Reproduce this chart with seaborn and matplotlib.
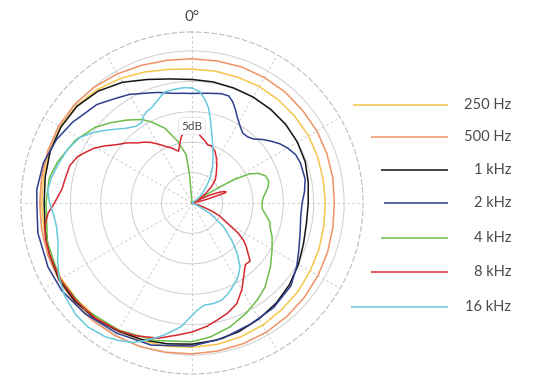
import numpy as np
import pandas as pd
import matplotlib
matplotlib.use("Agg")
import matplotlib.pyplot as plt
import seaborn as sns

sns.set_theme(style="white")
plt.rcParams["font.family"] = ["Lato", "DejaVu Sans"]

# ---------------- data (angle in degrees clockwise from 0°, level in dB above plot centre) -------------
series_labels = ["250 Hz", "500 Hz", "1 kHz", "2 kHz", "4 kHz", "8 kHz", "16 kHz"]
series_colors = ["#F5C64A", "#EF9266", "#141414", "#2E3E8E", "#6BBE4A", "#D7282F", "#68C8DC"]

angles_10 = [0, 10, 20, 30, 40, 50, 60, 70, 80, 90, 100, 110,
             120, 130, 140, 150, 160, 170, 180, 190, 200, 210, 220, 230,
             240, 250, 260, 270, 280, 290, 300, 310, 320, 330, 340, 350]

level_250 = [22.0, 22.0, 22.0, 22.1, 22.1, 22.1, 22.1, 22.0, 21.9, 21.9, 22.0, 22.2,
             22.4, 22.7, 22.9, 23.2, 23.4, 23.6, 23.7, 23.9, 24.1, 24.3, 24.5, 24.7,
             24.8, 24.8, 24.7, 24.7, 24.8, 24.9, 25.0, 24.8, 24.3, 23.6, 22.9, 22.3]

level_500 = [23.7, 23.7, 23.8, 23.8, 23.8, 23.7, 23.7, 23.6, 23.5, 23.4, 23.5, 23.7,
             23.9, 24.1, 24.3, 24.5, 24.6, 24.7, 24.8, 24.9, 25.1, 25.2, 25.3, 25.3,
             25.3, 25.2, 25.1, 25.0, 25.1, 25.2, 25.3, 25.2, 24.9, 24.5, 24.1, 23.8]

level_1k = [20.3, 20.2, 20.1, 20.1, 20.1, 20.1, 20.0, 19.8, 19.4, 19.1, 19.1, 19.5,
            20.2, 20.9, 21.5, 22.0, 22.5, 22.9, 23.2, 23.5, 23.9, 24.3, 24.8, 25.1,
            25.2, 24.9, 24.5, 24.3, 24.5, 24.8, 24.9, 24.7, 24.0, 22.9, 21.6, 20.7]

angles_2k = [0, 5, 10, 15, 19, 22, 25, 28, 32, 36, 40, 44, 48, 52, 56, 60, 65, 70, 78, 84,
             90, 97, 105, 113, 121, 130, 142, 154, 167, 180, 196, 210, 224, 236, 246, 259,
             270, 275, 285, 295, 304, 316, 323, 330, 337, 343, 350, 355]
level_2k = [18.0, 18.1, 18.3, 18.6, 18.6, 17.9, 16.9, 15.9, 14.9, 14.2, 14.2, 14.6, 15.6,
            16.5, 17.4, 18.1, 18.8, 19.0, 19.0, 18.6, 18.1, 18.0, 18.4, 19.1, 20.1, 21.2,
            21.8, 22.1, 22.8, 23.5, 24.3, 24.7, 25.3, 25.8, 25.9, 25.8, 25.5, 25.6, 25.3,
            24.6, 23.7, 22.5, 21.4, 20.6, 19.6, 19.0, 18.3, 18.1]

angles_4k = [0, 58, 60, 61, 63, 66, 70, 74, 78, 82, 86, 90, 95, 98, 104, 107, 113, 120,
             129, 139, 146, 154, 163, 172, 180, 195, 210, 225, 240, 255, 270, 280, 287,
             298, 308, 315, 322, 329, 333, 340, 347, 353, 355, 357]
level_4k = [0.0, 0.0, 5.0, 8.0, 10.5, 12.0, 12.9, 13.1, 12.8, 12.2, 11.7, 11.5, 11.6, 12.1,
            13.2, 13.4, 14.3, 15.2, 16.6, 18.3, 19.2, 20.2, 21.3, 22.2, 22.8, 23.4, 24.1,
            24.8, 25.1, 24.6, 24.0, 23.8, 23.1, 21.8, 20.2, 18.7, 17.3, 16.0, 15.0, 13.1,
            10.4, 8.0, 4.7, 0.0]

angles_8k = [0, 5, 9, 12, 15, 19, 24, 28, 33, 40, 45, 50, 55, 60, 63, 64, 66, 68, 70, 72,
             73, 74, 76, 78, 80, 104, 108, 112, 115, 118, 121, 123, 126, 129, 132, 135, 139,
             142, 145, 150, 156, 162, 168, 173, 180, 186, 194, 203, 210, 220, 230, 240, 250,
             256, 261, 266, 270, 276, 281, 287, 292, 295, 299, 303, 308, 313, 318, 322, 326,
             331, 336, 340, 343, 345.5, 348, 351, 353, 357]
level_8k = [11.7, 11.5, 10.8, 10.4, 9.9, 9.9, 9.3, 8.5, 7.5, 6.2, 5.4, 4.2, 2.8, 1.5, 0.5,
            1.0, 3.0, 4.5, 5.5, 5.9, 5.6, 4.0, 2.5, 1.2, 0.0, 0.0, 1.5, 3.5, 5.0, 6.0, 7.4,
            9.0, 10.5, 11.5, 12.4, 13.5, 13.4, 14.0, 14.8, 16.4, 18.1, 19.0, 19.7, 20.4,
            21.2, 21.8, 22.9, 23.7, 24.2, 24.7, 24.9, 25.0, 24.9, 24.8, 24.5, 23.7, 22.6,
            21.5, 21.2, 21.0, 20.3, 19.5, 18.5, 17.2, 15.6, 14.5, 13.3, 12.7, 12.0, 11.0,
            10.1, 9.6, 9.1, 8.8, 9.8, 11.1, 11.6, 11.5]

angles_16k = [0, 4, 7, 10, 12, 16, 20, 25, 30, 36, 42, 48, 55, 60, 112, 115, 120, 127, 133,
              138, 143, 148, 153, 158, 163, 168, 173, 177, 181, 185, 192, 198, 203, 208,
              213, 220, 226, 234, 241, 247, 253, 260, 265, 270, 275, 280, 286, 293, 300,
              305, 310, 315, 319, 324, 328, 331, 334, 337, 342, 346, 351, 356]
level_16k = [18.9, 18.3, 17.2, 15.8, 14.3, 11.8, 10.0, 8.2, 6.7, 5.1, 3.4, 2.2, 1.0, 0.0,
             0.0, 1.0, 3.4, 6.5, 8.9, 11.1, 13.1, 14.3, 15.1, 16.0, 16.7, 16.9, 16.9, 17.6,
             18.8, 20.4, 22.2, 23.7, 24.9, 25.6, 26.2, 26.6, 26.5, 25.9, 25.0, 24.0, 23.0,
             22.6, 22.8, 23.4, 23.8, 23.5, 22.9, 22.3, 21.4, 20.1, 18.6, 17.2, 16.3, 15.6,
             15.6, 16.4, 16.8, 17.0, 17.9, 18.8, 18.9, 19.0]

series_angles = [angles_10, angles_10, angles_10, angles_2k, angles_4k, angles_8k, angles_16k]
series_levels = [level_250, level_500, level_1k, level_2k, level_4k, level_8k, level_16k]

ring_levels = [5, 10, 15, 20, 25]
outer_level = 28.1
spoke_step = 30

# ---------------- figure -------------
W, H = 542, 381
fig = plt.figure(figsize=(W / 100, H / 100), dpi=100)
cx, cy, rad = 192, 203, 171
ax = fig.add_axes([(cx - rad) / W, (H - cy - rad) / H, 2 * rad / W, 2 * rad / H],
                  projection="polar")
ax.set_theta_zero_location("N")
ax.set_theta_direction(-1)
ax.set_ylim(0, outer_level)
ax.set_xticks(np.deg2rad(np.arange(0, 360, spoke_step)))
ax.set_xticklabels([])
ax.set_yticks(ring_levels)
ax.set_yticklabels([])
ax.tick_params(pad=0, length=0)
ax.xaxis.grid(True, color="#c4c4c4", linestyle=(0, (3, 3)), linewidth=0.6)
ax.yaxis.grid(True, color="#cfcfcf", linestyle="-", linewidth=0.7)
ax.spines["polar"].set_linestyle((0, (4, 3)))
ax.spines["polar"].set_color("#bdbdbd")
ax.spines["polar"].set_linewidth(0.8)

for lab, col, ang, lev in zip(series_labels, series_colors, series_angles, series_levels):
    df = pd.DataFrame({"theta": np.deg2rad(list(ang) + [360]),
                       "level": list(lev) + [lev[0]]})
    sns.lineplot(data=df, x="theta", y="level", ax=ax, color=col, linewidth=1.1,
                 sort=False, estimator=None)
ax.set_xlabel("")
ax.set_ylabel("")

# ---------------- annotations & legend (pixel overlay) -------------
lax = fig.add_axes([0, 0, 1, 1])
lax.set_xlim(0, W)
lax.set_ylim(H, 0)
lax.axis("off")

txt_color = "#4a4a4a"
lax.text(cx, 17, "0°", ha="center", va="center", fontsize=11, color=txt_color)
lax.text(cx, 126, "5dB", ha="center", va="center", fontsize=8.5, color=txt_color, zorder=10,
         bbox=dict(boxstyle="round,pad=0.25", facecolor="white", edgecolor="#e2e2e2", linewidth=0.6))

leg_y = [105, 137, 170, 203, 238, 272, 307]
leg_x0 = [353, 371, 381, 384, 381, 371, 351]
leg_x1 = 448
leg_tx = 511
for lab, col, y, x0 in zip(series_labels, series_colors, leg_y, leg_x0):
    lax.plot([x0, leg_x1], [y, y], color=col, linewidth=1.1, solid_capstyle="butt")
    lax.text(leg_tx, y, lab, ha="right", va="center", fontsize=10.5, color=txt_color)

fig.savefig("out.png", dpi=100)
